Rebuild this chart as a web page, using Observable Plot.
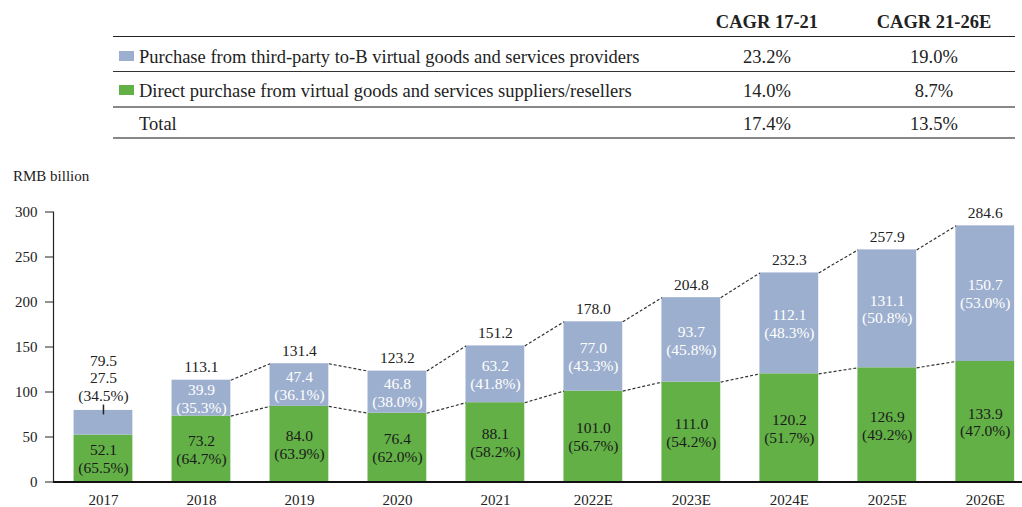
<!DOCTYPE html>
<html><head><meta charset="utf-8">
<script src="https://cdn.jsdelivr.net/npm/d3@7"></script>
<script src="https://cdn.jsdelivr.net/npm/@observablehq/plot@0.6"></script>
<style>
body{margin:0;background:#fff;font-family:"Liberation Serif","Times New Roman",serif;color:#222;}
#wrap{position:relative;width:1022px;height:507px;overflow:hidden;background:#fff;}
.t{position:absolute;white-space:nowrap;font-size:18.5px;line-height:1;transform:translateY(-50%);}
.c{transform:translate(-50%,-50%);}
.b{font-weight:bold;}
.rule{position:absolute;left:113px;width:902px;}
.sw{position:absolute;width:15px;height:10px;}
#chart{position:absolute;left:0;top:150px;z-index:1;}
#unit{position:absolute;left:13px;top:176px;font-size:15px;transform:translateY(-50%);white-space:nowrap;z-index:2;}
</style></head>
<body>
<div id="wrap">
  <div id="table"></div>
  <div id="chart"></div>
  <div id="unit">RMB billion</div>
</div>
<script>
// ---- data ----
const years = ["2017","2018","2019","2020","2021","2022E","2023E","2024E","2025E","2026E"];
const direct = [52.1, 73.2, 84.0, 76.4, 88.1, 101.0, 111.0, 120.2, 126.9, 133.9];
const thirdParty = [27.5, 39.9, 47.4, 46.8, 63.2, 77.0, 93.7, 112.1, 131.1, 150.7];
const totals = [79.5, 113.1, 131.4, 123.2, 151.2, 178.0, 204.8, 232.3, 257.9, 284.6];
const directPct = [65.5, 64.7, 63.9, 62.0, 58.2, 56.7, 54.2, 51.7, 49.2, 47.0];
const thirdPct = [34.5, 35.3, 36.1, 38.0, 41.8, 43.3, 45.8, 48.3, 50.8, 53.0];
const yTicks = [0, 50, 100, 150, 200, 250, 300];

const tableHeaders = ["CAGR 17-21", "CAGR 21-26E"];
const tableRows = ["Purchase from third-party to-B virtual goods and services providers",
                   "Direct purchase from virtual goods and services suppliers/resellers",
                   "Total"];
const cagr1721 = ["23.2%", "14.0%", "17.4%"];
const cagr2126 = ["19.0%", "8.7%", "13.5%"];

const blue = "#9dafce";
const green = "#62b046";

// ---- table (legend) ----
const tbl = document.getElementById("table");
function add(html) { tbl.insertAdjacentHTML("beforeend", html); }
const colX = [767, 934];
const rowY = [56.7, 90.7, 124];
const ruleY = [37.3, 71.7, 106.7, 138.3];
const ruleStyle = ["border-top:1.5px solid #222", "border-top:1.5px solid #333", "border-top:2px solid #888", "border-top:2px solid #888"];
tableHeaders.forEach((h, j) => add(`<div class="t c b" style="left:${colX[j]}px;top:22px">${h}</div>`));
ruleY.forEach((y, k) => add(`<div class="rule" style="top:${y - 1}px;${ruleStyle[k]}"></div>`));
const swatches = [blue, green, null];
tableRows.forEach((r, k) => {
  if (swatches[k]) add(`<div class="sw" style="left:119px;top:${rowY[k] - 5.5}px;background:${swatches[k]}"></div>`);
  add(`<div class="t" style="left:139px;top:${rowY[k]}px">${r}</div>`);
  add(`<div class="t c" style="left:${colX[0]}px;top:${rowY[k]}px">${cagr1721[k]}</div>`);
  add(`<div class="t c" style="left:${colX[1]}px;top:${rowY[k]}px">${cagr2126[k]}</div>`);
});

// ---- chart ----
const rows = years.map((year, i) => ({
  i, year, d: direct[i], t: thirdParty[i], total: totals[i], dp: directPct[i], tp: thirdPct[i]
}));
const hw = 0.3;
const links = rows.slice(1, -1);

const chart = Plot.plot({
  width: 1022, height: 357,
  marginLeft: 53, marginRight: 0, marginTop: 61.5, marginBottom: 25.5,
  x: {type: "linear", domain: [-0.51, 9.38]},
  y: {domain: [0, 300]},
  style: {fontFamily: "'Liberation Serif','Times New Roman',serif", fontSize: "15px", color: "#222", background: "transparent", overflow: "visible"},
  marks: [
    Plot.rectY(rows, {x1: d => d.i - hw, x2: d => d.i + hw, y1: 0, y2: "d", fill: green}),
    Plot.rectY(rows, {x1: d => d.i - hw, x2: d => d.i + hw, y1: "d", y2: "total", fill: blue}),
    Plot.link(links, {x1: d => d.i + hw, x2: d => d.i + 1 - hw, y1: "total", y2: d => totals[d.i + 1],
      stroke: "#333", strokeWidth: 1.2, strokeDasharray: "3,2"}),
    Plot.link(links, {x1: d => d.i + hw, x2: d => d.i + 1 - hw, y1: "d", y2: d => direct[d.i + 1],
      stroke: "#333", strokeWidth: 1.2, strokeDasharray: "3,2"}),
    Plot.ruleY([0], {stroke: "#111", strokeWidth: 2}),
    Plot.frame({anchor: "left", stroke: "#222", strokeWidth: 1.2}),
    Plot.axisY({ticks: yTicks, tickSize: 8, tickPadding: 8, label: null, fontSize: 15, stroke: "#222"}),
    Plot.axisX({ticks: rows.map(d => d.i), tickFormat: i => years[i], tickSize: 0, tickPadding: 12, label: null, fontSize: 15}),
    // labels
    Plot.text(rows.slice(1), {x: "i", y: "total", text: d => d.total.toFixed(1), dy: -13, fontSize: 15.5, fill: "#222"}),
    Plot.text(rows, {x: "i", y: d => d.d / 2, text: d => `${d.d.toFixed(1)}\n(${d.dp.toFixed(1)}%)`,
      lineHeight: 1.15, fontSize: 15.5, fill: "#1a1a1a"}),
    Plot.text(rows.slice(1), {x: "i", y: d => d.d + d.t / 2, text: d => `${d.t.toFixed(1)}\n(${d.tp.toFixed(1)}%)`,
      lineHeight: 1.15, fontSize: 15.5, fill: "white"}),
    Plot.text(rows.slice(0, 1), {x: "i", y: "total", text: d => `${d.total.toFixed(1)}\n${d.t.toFixed(1)}\n(${d.tp.toFixed(1)}%)`,
      lineHeight: 1.13, dy: -33, fontSize: 15.5, fill: "#222"}),
    Plot.ruleX(rows.slice(0, 1), {x: "i", y1: d => d.total - 5, y2: d => d.total + 6, stroke: "#222", strokeWidth: 1.5})
  ]
});
document.getElementById("chart").appendChild(chart);
</script>
</body></html>
